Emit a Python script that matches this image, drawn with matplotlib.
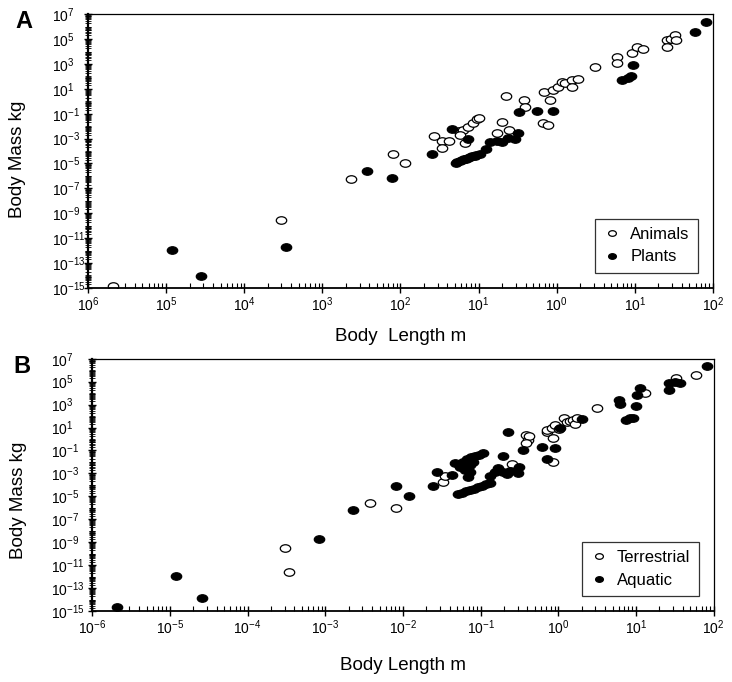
import numpy as np
import matplotlib
matplotlib.use("Agg")
import matplotlib.pyplot as plt
from matplotlib import font_manager
from matplotlib.path import Path
from matplotlib.transforms import Affine2D
from matplotlib.ticker import FixedLocator, FixedFormatter, LogLocator, NullFormatter

# font: condensed if we have it
names = {f.name for f in font_manager.fontManager.ttflist}
fam = "Liberation Sans Narrow" if "Liberation Sans Narrow" in names else "Liberation Sans"
plt.rcParams["font.family"] = [fam, "DejaVu Sans"]
plt.rcParams["mathtext.fontset"] = "custom"
plt.rcParams["mathtext.rm"] = fam
plt.rcParams["mathtext.it"] = fam
plt.rcParams["mathtext.bf"] = fam + ":bold"

# ---- data (log10 body length in m, log10 body mass in kg) ----
# panel A
animals_len = [-5.68, -3.53, -2.63, -2.10, -1.94, -1.57, -1.47, -1.47, -1.38, -1.25,
               -1.20, -1.14, -1.07, -1.02, -1.00, -1.24, -1.17, -0.76, -0.70, -0.61,
               -0.65, -0.42, -0.41, -0.18, -0.11, -0.16, -0.09, -0.05, 0.02, 0.07,
               0.11, 0.20, 0.20, 0.27, 0.49, 0.77, 0.77, 0.96, 1.03, 1.10,
               1.41, 1.41, 1.46, 1.51, 1.53]
animals_mass = [-14.85, -9.55, -6.25, -4.24, -4.97, -2.80, -3.20, -3.76, -3.20, -2.40,
                -2.32, -2.08, -1.76, -1.43, -1.35, -2.72, -3.36, -2.56, -1.67, -2.32,
                0.41, 0.09, -0.47, -1.76, -1.92, 0.73, 0.09, 0.90, 1.14, 1.54,
                1.46, 1.70, 1.14, 1.78, 2.74, 3.55, 3.06, 3.87, 4.35, 4.19,
                4.91, 4.35, 4.99, 5.31, 4.91]
plants_len = [-4.92, -4.55, -3.47, -2.43, -2.11, -1.60, -1.34, -1.14,
              -1.29, -1.27, -1.24, -1.21, -1.19, -1.16, -1.14, -1.11, -1.08, -1.05, -1.03, -0.98,
              -0.91, -0.85, -0.76, -0.70, -0.62, -0.53, -0.50, -0.48, -0.25, -0.05,
              0.98, 0.84, 0.91, 0.95, 1.77, 1.91]
plants_mass = [-11.96, -14.04, -11.71, -5.61, -6.17, -4.24, -2.24, -3.04,
               -4.97, -4.89, -4.81, -4.73, -4.65, -4.61, -4.57, -4.49, -4.41, -4.37, -4.33, -4.24,
               -3.84, -3.28, -3.20, -3.28, -2.96, -3.04, -2.56, -0.87, -0.79, -0.79,
               2.90, 1.70, 1.86, 2.02, 5.55, 6.36]

# panel B
terr_len = [-3.52, -3.47, -2.42, -2.09, -1.49, -1.46, -0.59, -0.41, -0.39, -0.38,
            -0.41, -0.07, -0.15, -0.14, -0.08, -0.07, -0.04, 0.01, 0.07, 0.11,
            0.15, 0.19, 0.21, 0.24, 0.50, 1.11, 1.52, 1.77]
terr_mass = [-9.51, -11.60, -5.58, -6.01, -3.74, -3.22, -2.17, 0.36, -0.07, 0.28,
             -0.34, -2.00, 0.62, 0.80, 0.97, 0.10, 1.24, 0.89, 1.85, 1.50,
             1.59, 1.67, 1.32, 1.85, 2.72, 4.03, 5.34, 5.60]
aqua_len = [-5.68, -4.92, -4.59, -3.08, -2.64, -2.09, -1.92, -1.61, -1.56, -1.37, -1.33,
            -1.27, -1.23, -1.18, -1.13, -1.07, -1.02, -0.97, -1.20, -1.14, -1.10,
            -1.16, -1.14,
            -1.29, -1.24, -1.19, -1.14, -1.09, -1.04, -0.98, -0.93, -0.88,
            -0.88, -0.82, -0.78, -0.71, -0.66, -0.62, -0.52, -0.50,
            -0.71, -0.65, -0.46, -0.21, -0.04, -0.14, 0.02, 0.30,
            0.78, 0.79, 1.00, 0.87, 0.92, 0.96, 1.01, 1.05, 1.43, 1.42, 1.50, 1.56, 1.92]
aqua_mass = [-14.66, -11.95, -13.87, -8.72, -6.19, -4.09, -4.97, -4.09, -2.87, -3.13, -2.08,
             -2.43, -2.00, -1.73, -1.56, -1.47, -1.38, -1.21, -2.69, -2.26, -2.00,
             -3.31, -2.87,
             -4.79, -4.70, -4.53, -4.44, -4.35, -4.18, -4.09, -3.92, -3.83,
             -3.22, -2.87, -2.52, -2.87, -3.04, -2.78, -2.96, -2.43,
             -1.47, 0.62, -0.95, -0.69, -0.77, -1.73, 0.97, 1.76,
             3.42, 3.07, 2.90, 1.67, 1.85, 1.85, 3.86, 4.47, 4.29, 4.90, 4.99, 4.90, 6.39]

len_ticks = [1e-6, 1e-5, 1e-4, 1e-3, 1e-2, 1e-1, 1e0, 1e1, 1e2]
len_labels_a = ["6", "5", "4", "3", "2", "1", "0", "1", "2"]      # printed without minus signs
len_labels_b = ["-6", "-5", "-4", "-3", "-2", "-1", "0", "1", "2"]
mass_ticks = [10.0 ** e for e in range(7, -16, -2)]
mass_labels = [str(e) for e in range(7, -16, -2)]

# slightly flattened circle marker
ellipse = Path.unit_circle().transformed(Affine2D().scale(1.0, 0.72))

fig = plt.figure(figsize=(7.32, 6.82), dpi=100)
ax_a = fig.add_axes([0.120, 0.578, 0.854, 0.401])
ax_b = fig.add_axes([0.126, 0.104, 0.849, 0.370])


def style_axis(ax, xlabels, xlab_y, ylab_xy, ypad):
    ax.set_xscale("log")
    ax.set_yscale("log")
    ax.set_xlim(1e-6, 1e2)
    ax.set_ylim(1e-15, 1e7)
    ax.xaxis.set_major_locator(FixedLocator(len_ticks))
    ax.xaxis.set_major_formatter(FixedFormatter([r"$10^{%s}$" % s for s in xlabels]))
    ax.xaxis.set_minor_locator(LogLocator(base=10, subs=np.arange(2, 10), numticks=50))
    ax.xaxis.set_minor_formatter(NullFormatter())
    ax.yaxis.set_major_locator(FixedLocator(mass_ticks))
    ax.yaxis.set_major_formatter(FixedFormatter([r"$10^{%s}$" % s for s in mass_labels]))
    ax.yaxis.set_minor_locator(LogLocator(base=10, subs=np.arange(1, 10), numticks=60))
    ax.yaxis.set_minor_formatter(NullFormatter())
    ax.tick_params(axis="x", which="major", direction="inout", length=7, width=1.0, labelsize=10, pad=2)
    ax.tick_params(axis="x", which="minor", direction="in", length=3.5, width=0.8)
    ax.tick_params(axis="y", which="major", direction="inout", length=6, width=1.0, labelsize=10, pad=ypad)
    ax.tick_params(axis="y", which="minor", direction="inout", length=4, width=0.6)
    for lab in ax.get_yticklabels():
        lab.set_horizontalalignment("left")
    for s in ax.spines.values():
        s.set_linewidth(0.9)
    ax.spines["left"].set_linewidth(1.6)
    ax.spines["bottom"].set_linewidth(1.3)
    ax.set_xlabel("Body Length m", fontsize=13.5)
    ax.set_ylabel("Body Mass kg", fontsize=13.5)
    ax.xaxis.set_label_coords(0.5, xlab_y)
    ax.xaxis.label.set_verticalalignment("center")
    ax.yaxis.set_label_coords(*ylab_xy)
    ax.yaxis.label.set_verticalalignment("center")


def draw(ax, x, y, filled, label):
    ax.plot(10 ** np.array(x), 10 ** np.array(y), ls="none", marker=ellipse, ms=7.5,
            mfc="black" if filled else "white", mec="black", mew=0.9, label=label)


draw(ax_a, animals_len, animals_mass, False, "Animals")
draw(ax_a, plants_len, plants_mass, True, "Plants")
style_axis(ax_a, len_labels_a, -0.179, (-0.112, 0.47), 23)
ax_a.xaxis.label.set_text("Body  Length m")

draw(ax_b, terr_len, terr_mass, False, "Terrestrial")
draw(ax_b, aqua_len, aqua_mass, True, "Aquatic")
style_axis(ax_b, len_labels_b, -0.214, (-0.118, 0.44), 27)

for ax in (ax_a, ax_b):
    leg = ax.legend(loc="lower right", fontsize=12, frameon=True, fancybox=False,
                    edgecolor="black", borderaxespad=0.9, handlelength=1.0,
                    handletextpad=0.6, labelspacing=0.45, borderpad=0.5, markerscale=0.75)
    leg.get_frame().set_linewidth(0.9)

fig.text(0.033, 0.969, "A", fontsize=17, fontweight="bold", ha="center", va="center")
fig.text(0.030, 0.462, "B", fontsize=17, fontweight="bold", ha="center", va="center")

fig.savefig("out.png", dpi=100)
